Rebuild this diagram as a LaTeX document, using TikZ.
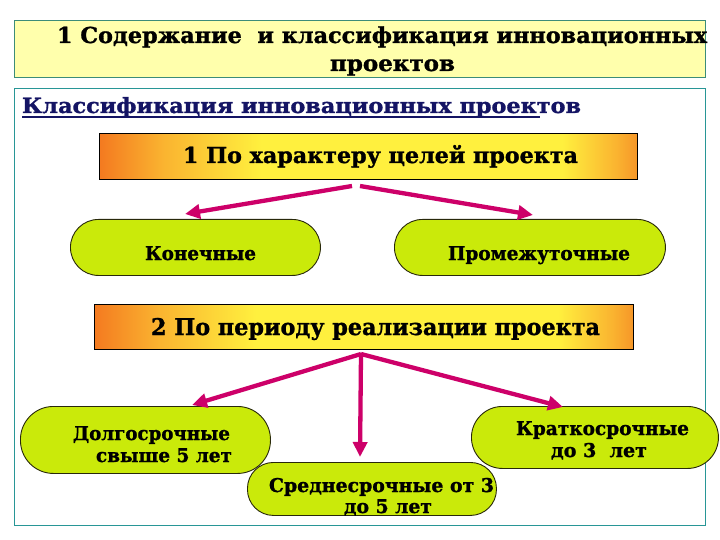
\documentclass[tikz,border=0pt]{standalone}
\usepackage{fontspec}
\setmainfont{DejaVu Serif}[BoldFeatures={FakeBold=1.2}]
\usetikzlibrary{arrows.meta}
\definecolor{ttlfill}{RGB}{255,255,172}
\definecolor{ttlline}{RGB}{60,140,120}
\definecolor{frameline}{RGB}{40,150,150}
\definecolor{navyc}{RGB}{20,20,100}
\definecolor{ovalc}{RGB}{202,234,10}
\definecolor{ovalline}{RGB}{40,40,10}
\definecolor{arrowc}{RGB}{205,0,105}
\definecolor{orng}{RGB}{244,122,32}
\definecolor{orngm}{RGB}{250,180,48}
\definecolor{orng2}{RGB}{246,150,40}
\definecolor{yel}{RGB}{255,240,62}
\pgfdeclarehorizontalshading{boxgrad}{100bp}{color(0bp)=(orng); color(25bp)=(orng); color(31bp)=(orngm); color(40bp)=(yel); color(68bp)=(yel); color(73bp)=(orngm); color(75bp)=(orng2); color(100bp)=(orng2)}
\newlength\fitlen
\newcommand\fitx[2]{\settowidth\fitlen{#2}\pgfmathsetmacro\fitr{#1/\fitlen}\scalebox{\fitr}[1]{#2}}
\tikzset{
  txt/.style={inner sep=0pt, outer sep=0pt, anchor=base west, font=\bfseries},
  gbox/.style={draw=black, line width=0.9pt, shading=boxgrad, anchor=north west, inner sep=0pt},
  oval/.style={draw=ovalline, line width=0.9pt, fill=ovalc, anchor=north west, inner sep=0pt},
  arr/.style={draw=arrowc, line width=4.3pt, -{Triangle[length=15pt,width=14pt]}},
}
\begin{document}
\begin{tikzpicture}[x=1pt,y=-1pt]
\useasboundingbox (0,0) rectangle (720,540);
\fill[white] (0,0) rectangle (720,540);
% title box
\node[draw=ttlline, line width=0.8pt, fill=ttlfill, anchor=north west, inner sep=0pt, minimum width=691pt, minimum height=57pt] (ttl) at (14,20) {};
\node[txt] (t1) at (57,43) {\fontsize{22}{26}\selectfont\fitx{650}{1 Содержание\ \ и классификация инновационных}};
\node[txt] (t2) at (330,71) {\fontsize{22}{26}\selectfont\fitx{125}{проектов}};
% frame
\node[draw=frameline, line width=1pt, fill=white, anchor=north west, inner sep=0pt, minimum width=691pt, minimum height=437pt] (frame) at (14,88) {};
\node[txt, text=navyc] (sub) at (22,113) {\fontsize{21}{24}\selectfont\fitx{559}{Классификация инновационных проектов}};
\draw[navyc, line width=1.4pt] (22,117) -- (540,117);
% box 1
\node[gbox, minimum width=538pt, minimum height=46pt] (b1) at (99,133) {};
\node[txt] (b1t) at (183,163) {\fontsize{22}{26}\selectfont\fitx{395}{1 По характеру целей проекта}};
% ovals row 1
\node[oval, minimum width=250pt, minimum height=56pt, rounded corners=28pt] (kon) at (70,219) {};
\node[txt] (kont) at (145,260) {\fontsize{19}{22}\selectfont\fitx{111}{Конечные}};
\node[oval, minimum width=271pt, minimum height=56pt, rounded corners=28pt] (prom) at (394,219) {};
\node[txt] (promt) at (448,260) {\fontsize{19}{22}\selectfont\fitx{182}{Промежуточные}};
% arrows 1
\coordinate (a1s) at (352,186);
\coordinate (a1t) at (185,214);
\coordinate (a2s) at (360,186);
\coordinate (a2t) at (533,215);
\draw[arr] (a1s) -- (a1t);
\draw[arr] (a2s) -- (a2t);
% box 2
\node[gbox, minimum width=539pt, minimum height=45pt] (b2) at (94,304) {};
\node[txt] (b2t) at (151,335) {\fontsize{23}{26}\selectfont\fitx{449}{2 По периоду реализации проекта}};
% ovals row 2
\node[oval, minimum width=250pt, minimum height=67pt, rounded corners=33pt] (dolg) at (20,406) {};
\node[txt] (dolg1) at (73,440) {\fontsize{19}{22}\selectfont\fitx{157}{Долгосрочные}};
\node[txt] (dolg2) at (96,462) {\fontsize{19}{22}\selectfont\fitx{136}{свыше 5 лет}};
\node[oval, minimum width=249pt, minimum height=53pt, rounded corners=26pt] (sred) at (247,462) {};
\node[txt] (sred1) at (269,492) {\fontsize{19}{22}\selectfont\fitx{225}{Среднесрочные от 3}};
\node[txt] (sred2) at (344,513) {\fontsize{19}{22}\selectfont\fitx{88}{до 5 лет}};
\node[oval, minimum width=247pt, minimum height=62pt, rounded corners=31pt] (krat) at (471,406) {};
\node[txt] (krat1) at (516,435) {\fontsize{19}{22}\selectfont\fitx{173}{Краткосрочные}};
\node[txt] (krat2) at (551,457) {\fontsize{19}{22}\selectfont\fitx{96}{до 3\ \ лет}};
% arrows 2
\coordinate (apex) at (361,354);
\coordinate (t3a) at (192,405);
\coordinate (t3b) at (360,457);
\coordinate (t3c) at (563,407);
\draw[arr] (apex) -- (t3a);
\draw[arr] (apex) -- (t3b);
\draw[arr] (apex) -- (t3c);
\end{tikzpicture}
\end{document}
